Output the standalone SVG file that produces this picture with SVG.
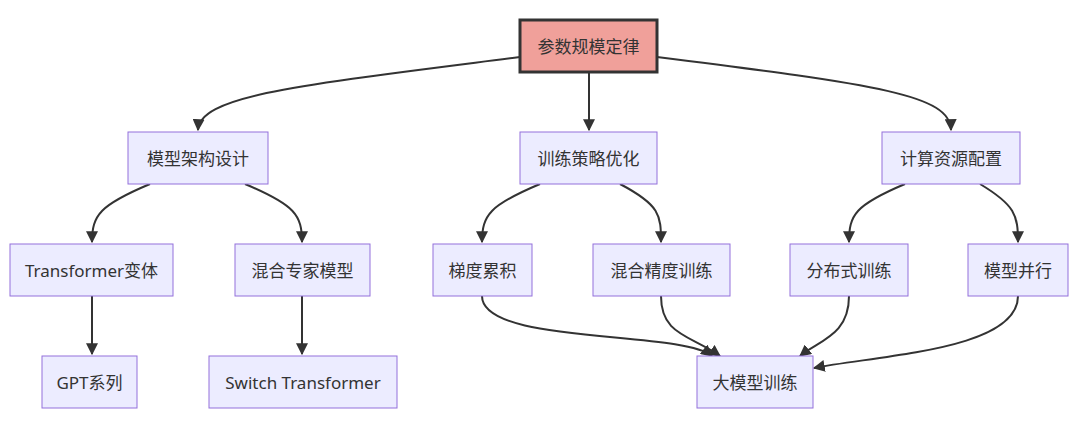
<svg xmlns="http://www.w3.org/2000/svg" width="1080" height="433" viewBox="0 0 1080 433">
<style>
.n rect{fill:#ECECFF;stroke:#9370DB;stroke-width:1}
.n text{font-family:"Noto Sans","Noto Sans CJK SC",sans-serif;font-size:17px;fill:#333;text-anchor:middle;dominant-baseline:central}
.e path{fill:none;stroke:#333;stroke-width:2;marker-end:url(#a)}
</style>
<defs><marker id="a" viewBox="0 0 10 10" refX="9" refY="5" markerWidth="6" markerHeight="6" orient="auto"><path d="M0,0L10,5L0,10z" fill="#333"/></marker></defs>
<rect width="1080" height="433" fill="#fff"/>
<g class="e">
<path d="M520,57 C300,85 200,95 198,130"/>
<path d="M589,72 L589,130"/>
<path d="M657,57 C880,85 950,95 951,130"/>
<path d="M150,184 C100,205 92,215 92,242"/>
<path d="M245,184 C295,205 302,215 302,242"/>
<path d="M540,184 C490,205 482,215 482,242"/>
<path d="M620,184 C660,205 661,215 661,242"/>
<path d="M905,184 C855,205 849,215 849,242"/>
<path d="M980,184 C1015,205 1018,215 1018,242"/>
<path d="M92,296 L92,354"/>
<path d="M302,296 L302,354"/>
<path d="M482,296 C482,345 680,330 712,356"/>
<path d="M661,296 C661,335 690,335 720,356"/>
<path d="M849,296 C849,335 820,340 800,356"/>
<path d="M1018,296 C1018,350 880,355 814,368"/>
</g>
<g id="n0" class="n"><rect x="520" y="20" width="137" height="52" style="fill:#F0A09A;stroke:#333;stroke-width:3"/><text x="588.5" y="46">参数规模定律</text></g>
<g id="n1" class="n"><rect x="128" y="132" width="140" height="52"/><text x="198" y="158">模型架构设计</text></g>
<g id="n2" class="n"><rect x="520" y="132" width="137" height="52"/><text x="588.5" y="158">训练策略优化</text></g>
<g id="n3" class="n"><rect x="882" y="132" width="138" height="52"/><text x="951" y="158">计算资源配置</text></g>
<g id="n4" class="n"><rect x="10" y="244" width="163" height="52"/><text x="91.5" y="270">Transformer变体</text></g>
<g id="n5" class="n"><rect x="235" y="244" width="135" height="52"/><text x="302.5" y="270">混合专家模型</text></g>
<g id="n6" class="n"><rect x="433" y="244" width="99" height="52"/><text x="482.5" y="270">梯度累积</text></g>
<g id="n7" class="n"><rect x="593" y="244" width="137" height="52"/><text x="661.5" y="270">混合精度训练</text></g>
<g id="n8" class="n"><rect x="790" y="244" width="118" height="52"/><text x="849" y="270">分布式训练</text></g>
<g id="n9" class="n"><rect x="968" y="244" width="100" height="52"/><text x="1018" y="270">模型并行</text></g>
<g id="n10" class="n"><rect x="42" y="356" width="95" height="52"/><text x="89.5" y="382">GPT系列</text></g>
<g id="n11" class="n"><rect x="209" y="356" width="188" height="52"/><text x="303" y="382">Switch Transformer</text></g>
<g id="n12" class="n"><rect x="697" y="356" width="116" height="52"/><text x="755" y="382">大模型训练</text></g>
</svg>
